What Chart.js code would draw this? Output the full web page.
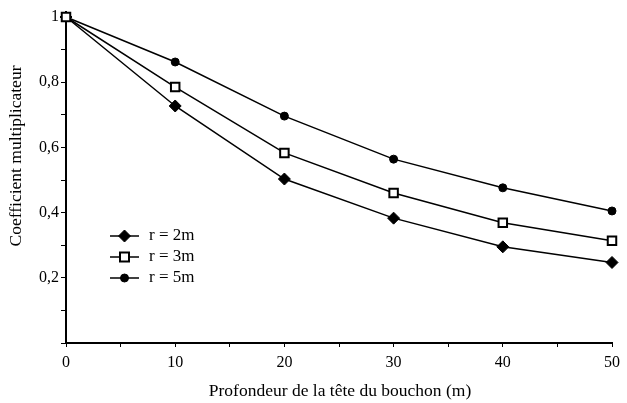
<!DOCTYPE html>
<html>
<head>
<meta charset="utf-8">
<script src="https://cdn.jsdelivr.net/npm/chart.js@4/dist/chart.umd.min.js"></script>
<style>
  html, body { margin: 0; padding: 0; background: #fff; }
  #wrap { width: 627px; height: 403px; }
</style>
</head>
<body>
<div id="wrap"><canvas id="c" width="627" height="403"></canvas></div>
<script>
// depth of plug head (m)
const depths = [0, 10, 20, 30, 40, 50];

// multiplying coefficient, one list per radius
const r2 = [1.0, 0.727, 0.503, 0.383, 0.295, 0.247];
const r3 = [1.0, 0.785, 0.583, 0.460, 0.369, 0.314];
const r5 = [1.0, 0.862, 0.696, 0.564, 0.476, 0.405];

const labels = ['r = 2m', 'r = 3m', 'r = 5m'];
const xTitle = 'Profondeur de la tête du bouchon (m)';
const yTitle = 'Coefficient multiplicateur';

const tickFont = { family: 'Liberation Serif', size: 16 };

function pts(vals) {
    return vals.map((v, i) => ({ x: depths[i], y: v }));
}

// axis titles + small legend drawn inside the plot, like the original
const extras = {
    id: 'extras',
    afterDraw(chart) {
        const ctx = chart.ctx;
        ctx.save();
        ctx.fillStyle = '#000';
        ctx.font = '17.5px "Liberation Serif"';
        ctx.textAlign = 'center';
        ctx.textBaseline = 'middle';
        ctx.fillText(xTitle, 340, 391);
        ctx.translate(16, 156);
        ctx.rotate(-Math.PI / 2);
        ctx.fillText(yTitle, 0, 0);
        ctx.restore();

        const x0 = 110, x1 = 139, tx = 149;
        const rows = [236, 257, 278];
        ctx.save();
        chart.data.datasets.forEach((ds, i) => {
            const y = rows[i];
            ctx.strokeStyle = '#000';
            ctx.lineWidth = 1.5;
            ctx.beginPath();
            ctx.moveTo(x0, y);
            ctx.lineTo(x1, y);
            ctx.stroke();
            const cx = (x0 + x1) / 2;
            ctx.fillStyle = ds.pointBackgroundColor;
            ctx.lineWidth = ds.pointBorderWidth;
            ctx.beginPath();
            if (ds.pointStyle === 'rectRot') {
                const r = ds.pointRadius;
                ctx.moveTo(cx, y - r); ctx.lineTo(cx + r, y);
                ctx.lineTo(cx, y + r); ctx.lineTo(cx - r, y);
                ctx.closePath();
            } else if (ds.pointStyle === 'rect') {
                const r = ds.pointRadius * 0.75;
                ctx.rect(cx - r, y - r, 2 * r, 2 * r);
            } else {
                ctx.arc(cx, y, ds.pointRadius, 0, Math.PI * 2);
            }
            ctx.fill();
            ctx.stroke();
            ctx.fillStyle = '#000';
            ctx.font = '17px "Liberation Serif"';
            ctx.textAlign = 'left';
            ctx.textBaseline = 'middle';
            ctx.fillText(ds.label, tx, y);
        });
        ctx.restore();
    }
};

new Chart(document.getElementById('c'), {
    type: 'line',
    data: {
        datasets: [
            {
                label: labels[0], data: pts(r2), order: 2,
                borderColor: '#000', borderWidth: 1.5,
                pointStyle: 'rectRot', pointRadius: 6,
                pointBackgroundColor: '#000', pointBorderColor: '#000', pointBorderWidth: 1
            },
            {
                label: labels[1], data: pts(r3), order: 0,
                borderColor: '#000', borderWidth: 1.5,
                pointStyle: 'rect', pointRadius: 6,
                pointBackgroundColor: '#fff', pointBorderColor: '#000', pointBorderWidth: 2
            },
            {
                label: labels[2], data: pts(r5), order: 1,
                borderColor: '#000', borderWidth: 1.5,
                pointStyle: 'circle', pointRadius: 4,
                pointBackgroundColor: '#000', pointBorderColor: '#000', pointBorderWidth: 1
            }
        ]
    },
    options: {
        responsive: false,
        animation: false,
        clip: false,
        layout: { padding: { top: 17, right: 15, left: 0, bottom: 0 } },
        plugins: {
            legend: { display: false },
            tooltip: { enabled: false }
        },
        scales: {
            x: {
                type: 'linear',
                min: 0, max: 50,
                afterFit: s => { s.height = 60; },
                ticks: {
                    stepSize: 5,
                    color: '#000',
                    font: tickFont,
                    maxRotation: 0,
                    padding: 6,
                    callback: v => (v % 10 === 0 ? String(v) : '')
                },
                grid: { drawOnChartArea: false, color: '#000', tickLength: 4, lineWidth: 1 },
                border: { color: '#000', width: 2 }
            },
            y: {
                min: 0, max: 1,
                afterFit: s => { s.width = 66; },
                ticks: {
                    stepSize: 0.1,
                    color: '#000',
                    font: tickFont,
                    padding: 2,
                    callback: v => {
                        const k = Math.round(v * 10);
                        if (k === 0 || k % 2 === 1) return '';
                        return k === 10 ? '1' : (k / 10).toFixed(1).replace('.', ',');
                    }
                },
                grid: { drawOnChartArea: false, color: '#000', tickLength: 5, lineWidth: 1 },
                border: { color: '#000', width: 2 }
            }
        }
    },
    plugins: [extras]
});
</script>
</body>
</html>
